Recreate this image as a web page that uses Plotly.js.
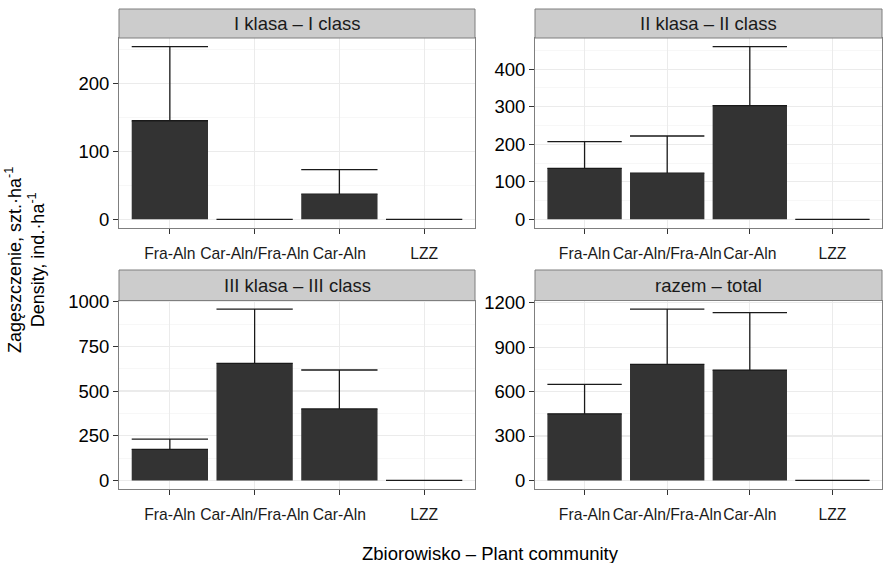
<!DOCTYPE html>
<html>
<head>
<meta charset="utf-8">
<script src="https://cdn.plot.ly/plotly-3.0.1.min.js"></script>
<style>html,body{margin:0;padding:0;background:#fff;}#chart{width:883px;height:563px;}</style>
</head>
<body>
<div id="chart"></div>
<script>
// ---- data ----
const categories = ['Fra-Aln', 'Car-Aln/Fra-Aln', 'Car-Aln', 'LZZ'];
const panelTitles = ['I klasa – I class', 'II klasa – II class', 'III klasa – III class', 'razem – total'];
const class1Mean  = [145, 0, 37, 0];
const class1Upper = [254, 0, 73, 0];
const class2Mean  = [136, 123, 303, 0];
const class2Upper = [207, 222, 460, 0];
const class3Mean  = [174, 655, 400, 0];
const class3Upper = [231, 959, 618, 0];
const totalMean   = [450, 783, 745, 0];
const totalUpper  = [649, 1157, 1133, 0];
const yTickStep   = [100, 100, 250, 300];
const yTitleLines = ['Zagęszczenie, szt.·ha<sup>-1</sup>', 'Density, ind.·ha<sup>-1</sup>'];
const xTitle = 'Zbiorowisko – Plant community';

// ---- layout geometry (px) ----
const W = 883, H = 563;
const cols = [[119, 475], [535, 882]];
const rows = [{stripTop: 9, top: 38, bottom: 228}, {stripTop: 270, top: 300.5, bottom: 489}];
const font = 'Liberation Sans, Arial, Helvetica, sans-serif';
const barWidth = 0.9;
const xRange = [-0.6, 3.6];

const means = [class1Mean, class2Mean, class3Mean, totalMean];
const uppers = [class1Upper, class2Upper, class3Upper, totalUpper];

const data = [];
const layout = {
  width: W, height: H,
  margin: {l: 0, r: 0, t: 0, b: 0},
  paper_bgcolor: '#ffffff', plot_bgcolor: '#ffffff',
  showlegend: false,
  font: {family: font, color: '#000000'},
  shapes: [], annotations: []
};

for (let i = 0; i < 4; i++) {
  const col = cols[i % 2], row = rows[Math.floor(i / 2)];
  const sfx = i === 0 ? '' : String(i + 1);
  const panelPx = col[1] - col[0];
  const capHalf = panelPx / (xRange[1] - xRange[0]) * barWidth / 2;
  const ymax = Math.max(...uppers[i]);
  const pad = ymax * 0.05;

  data.push({
    type: 'bar',
    x: categories,
    y: means[i],
    width: barWidth,
    xaxis: 'x' + sfx, yaxis: 'y' + sfx,
    marker: {color: '#333333', line: {width: 0}},
    error_y: {
      type: 'data', symmetric: false,
      array: uppers[i].map((u, k) => u - means[i][k]),
      arrayminus: means[i].map(() => 0),
      color: '#1a1a1a', thickness: 1.3, width: capHalf
    },
    hoverinfo: 'x+y'
  });

  layout['xaxis' + sfx] = {
    domain: [col[0] / W, col[1] / W],
    anchor: 'y' + sfx,
    type: 'category',
    categoryorder: 'array', categoryarray: categories,
    range: xRange,
    showgrid: true, gridcolor: '#ebebeb', gridwidth: 1.2,
    showline: true, linecolor: '#7f7f7f', linewidth: 1, mirror: true,
    ticks: 'outside', ticklen: 5, tickcolor: '#333333', tickwidth: 1,
    tickangle: 0,
    ticklabelstandoff: 6,
    tickfont: {family: font, size: 15.7, color: '#1a1a1a'},
    zeroline: false, fixedrange: true
  };
  layout['yaxis' + sfx] = {
    domain: [1 - row.bottom / H, 1 - row.top / H],
    anchor: 'x' + sfx,
    range: [-pad, ymax + pad],
    tick0: 0, dtick: yTickStep[i],
    showgrid: true, gridcolor: '#ebebeb', gridwidth: 1.2,
    minor: {showgrid: true, gridcolor: '#f7f7f7', gridwidth: 1, dtick: yTickStep[i] / 2, tick0: 0},
    showline: true, linecolor: '#7f7f7f', linewidth: 1, mirror: true,
    ticks: 'outside', ticklen: 5, tickcolor: '#333333', tickwidth: 1,
    tickfont: {family: font, size: 18.5, color: '#000000'},
    zeroline: false, fixedrange: true
  };

  // facet strip
  layout.shapes.push({
    type: 'rect', xref: 'paper', yref: 'paper',
    x0: col[0] / W, x1: col[1] / W,
    y0: 1 - row.top / H, y1: 1 - row.stripTop / H,
    fillcolor: '#cccccc', line: {color: '#7f7f7f', width: 1}
  });
  layout.annotations.push({
    xref: 'paper', yref: 'paper',
    x: (col[0] + col[1]) / 2 / W, y: 1 - (row.stripTop + row.top) / 2 / H,
    xanchor: 'center', yanchor: 'middle', showarrow: false,
    text: panelTitles[i],
    font: {family: font, size: 18.5, color: '#1a1a1a'}
  });
}

layout.annotations.push({
  xref: 'paper', yref: 'paper', x: 25 / W, y: 1 - 260 / H,
  xanchor: 'center', yanchor: 'middle', showarrow: false, textangle: -90,
  text: yTitleLines.join('<br>'),
  font: {family: font, size: 18, color: '#000000'}
});
layout.annotations.push({
  xref: 'paper', yref: 'paper', x: 491 / W, y: 1 - 553 / H,
  xanchor: 'center', yanchor: 'middle', showarrow: false,
  text: xTitle,
  font: {family: font, size: 18.5, color: '#000000'}
});

Plotly.newPlot('chart', data, layout, {displayModeBar: false, staticPlot: true});
</script>
</body>
</html>
